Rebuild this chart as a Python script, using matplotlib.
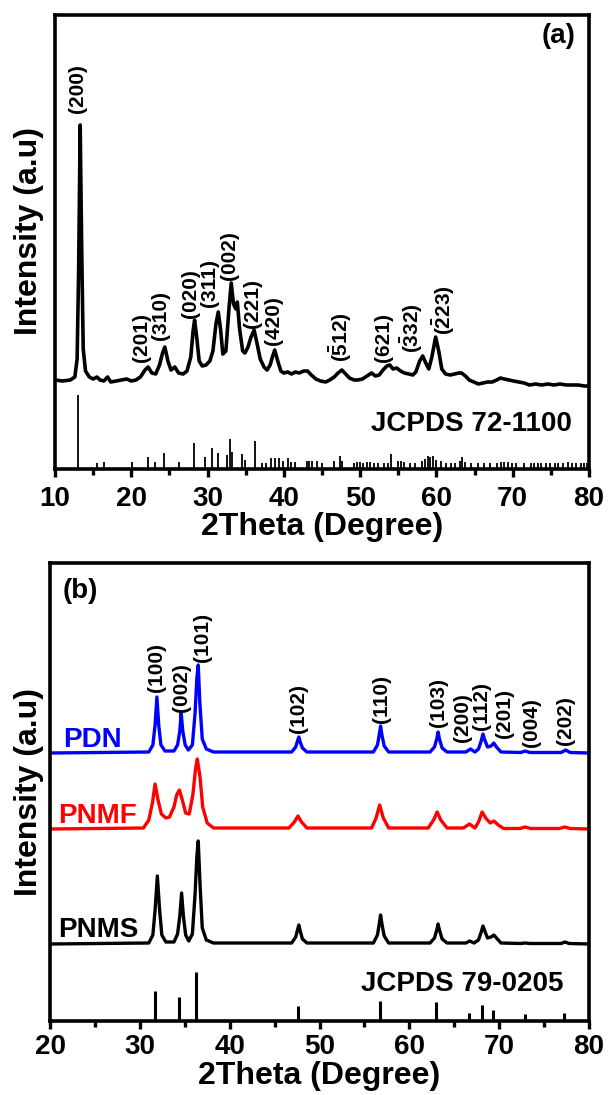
import matplotlib
matplotlib.use('Agg')
import matplotlib.pyplot as plt

plt.rcParams['font.family'] = ['Liberation Sans', 'DejaVu Sans']
plt.rcParams['mathtext.fontset'] = 'custom'
plt.rcParams['mathtext.rm'] = 'Liberation Sans'
plt.rcParams['mathtext.bf'] = 'Liberation Sans:bold'

# ---- (a) measured pattern, 2theta vs intensity (a.u.) ----
xrd_a_2theta = [10.0, 11.0, 12.0, 12.6, 12.9, 13.1, 13.3, 13.5, 13.7, 14.0, 14.5, 15.0, 15.5,
                15.9, 16.4, 16.9, 17.3, 18.0, 18.7, 19.4, 20.0, 20.6, 21.2, 21.8, 22.2, 22.7,
                23.2, 23.7, 24.1, 24.4, 24.8, 25.2, 25.7, 26.2, 26.8, 27.3, 27.8, 28.1, 28.3,
                28.6, 28.9, 29.3, 29.8, 30.3, 30.7, 31.1, 31.4, 31.7, 32.0, 32.4, 32.8, 33.1,
                33.4, 33.7, 33.9, 34.2, 34.6, 34.9, 35.3, 35.7, 36.1, 36.5, 36.9, 37.4, 37.8,
                38.2, 38.5, 38.8, 39.2, 39.6, 40.0, 40.5, 41.0, 41.5, 42.0, 42.6, 43.1, 43.6,
                44.2, 44.8, 45.5, 46.0, 46.6, 47.1, 47.6, 48.1, 48.6, 49.2, 49.7, 50.3, 50.9,
                51.5, 52.0, 52.5, 53.0, 53.5, 53.9, 54.3, 54.8, 55.3, 55.8, 56.4, 56.9, 57.3,
                57.8, 58.2, 58.6, 59.0, 59.4, 59.9, 60.3, 60.7, 61.2, 61.8, 62.4, 62.9, 63.3,
                63.8, 64.3, 64.9, 65.5, 66.1, 66.7, 67.3, 67.9, 68.4, 68.9, 69.5, 70.1, 70.8,
                71.5, 72.2, 73.0, 73.8, 74.6, 75.4, 76.2, 77.0, 77.8, 78.6, 79.4, 80.0]
xrd_a_int = [89, 88, 89, 92, 110, 200, 344, 220, 120, 98, 92, 90, 92,
             89, 88, 92, 87, 88, 89, 90, 88, 89, 92, 99, 102, 96,
             95, 104, 116, 122, 108, 99, 102, 96, 95, 98, 112, 138, 149,
             130, 108, 103, 104, 108, 118, 145, 157, 140, 115, 118, 160, 186,
             165, 160, 167, 140, 118, 116, 122, 132, 139, 125, 110, 102, 99,
             104, 112, 119, 108, 98, 96, 97, 95, 97, 96, 98, 98, 94,
             90, 88, 87, 89, 92, 96, 99, 95, 91, 89, 89, 90, 93,
             96, 93, 94, 99, 103, 104, 100, 101, 98, 96, 95, 94, 97,
             108, 113, 106, 100, 112, 132, 118, 100, 95, 94, 95, 96, 96,
             93, 89, 87, 85, 86, 87, 87, 89, 91, 90, 89, 88, 87,
             86, 84, 85, 84, 85, 84, 85, 84, 84, 84, 83, 83]

# JCPDS 72-1100 reference lines
ref_a_2theta = [13.0, 15.5, 16.4, 20.1, 22.2, 23.1, 24.3, 26.3, 28.2, 29.7, 30.6, 31.4, 32.6,
                32.9, 33.2, 34.5, 34.9, 36.2, 37.1, 37.6, 38.3, 38.8, 39.3, 39.9, 40.5, 41.0,
                41.4, 43.0, 43.3, 43.7, 44.4, 45.0, 46.6, 47.3, 47.6, 49.2, 49.6, 50.0, 50.4,
                50.9, 51.3, 51.8, 52.3, 53.1, 53.6, 54.1, 54.9, 55.3, 55.8, 56.5, 57.2, 58.1,
                58.5, 58.9, 59.2, 59.5, 60.0, 60.6, 61.3, 61.9, 62.4, 63.1, 63.3, 63.8, 64.5,
                65.4, 66.3, 67.0, 68.0, 68.5, 68.9, 69.4, 69.9, 70.4, 71.5, 72.4, 72.8, 73.3,
                73.7, 74.3, 74.9, 75.5, 76.0, 76.6, 77.2, 77.8, 78.3, 78.9, 79.4, 79.8]
ref_a_int = [74, 6, 7, 7, 12, 7, 16, 7, 26, 12, 21, 16, 14,
             30, 17, 15, 9, 28, 6, 6, 11, 11, 11, 8, 11, 7,
             7, 8, 8, 8, 8, 6, 8, 13, 8, 6, 7, 7, 6,
             7, 7, 6, 6, 6, 6, 15, 8, 8, 7, 6, 6, 8,
             10, 13, 12, 13, 9, 8, 6, 6, 6, 8, 12, 7, 6,
             6, 6, 6, 6, 7, 7, 7, 6, 6, 6, 6, 6, 6,
             6, 6, 6, 6, 6, 6, 7, 6, 6, 6, 6, 6]

hkl_a = ['(200)', '(201)', '(310)', '(020)', '(311)', '(002)', '(221)', '(420)',
         r'$\mathbf{(\bar{5}12)}$', '(621)', r'$\mathbf{(\bar{3}32)}$', r'$\mathbf{(\bar{2}23)}$']
hkl_a_x = [13.0, 21.4, 23.8, 27.7, 30.3, 32.9, 35.9, 38.6, 47.4, 53.0, 56.8, 61.0]
hkl_a_y = [356, 107, 129, 151, 162, 189, 141, 124, 107, 107, 116, 134]

# ---- (b) measured patterns (baseline removed) ----
pdn_2theta = [20.0, 31.0, 31.45, 31.7, 31.9, 32.1, 32.35, 32.8, 33.8, 34.2, 34.45, 34.6, 34.78,
              35.05, 35.4, 35.85, 36.15, 36.35, 36.5, 36.68, 36.95, 37.4, 38.2, 46.9, 47.35,
              47.55, 47.7, 47.85, 48.1, 48.6, 56.0, 56.45, 56.65, 56.8, 56.95, 57.2, 57.7,
              62.3, 62.8, 63.05, 63.2, 63.35, 63.65, 64.2, 66.3, 66.8, 67.3, 67.7, 68.0, 68.2,
              68.4, 68.7, 69.1, 69.4, 69.7, 70.2, 72.4, 72.9, 73.4, 76.9, 77.4, 77.9, 80.0]
pdn_int = [0, 1, 8, 28, 56, 28, 8, 2, 2, 8, 22, 40, 22,
           8, 3, 8, 40, 75, 88, 50, 14, 4, 1, 1, 6,
           12, 16, 11, 5, 1, 1, 8, 18, 27, 18, 7, 1,
           1, 6, 14, 21, 14, 5, 1, 1, 4, 1, 4, 12, 19,
           13, 6, 7, 10, 6, 1, 0.5, 2, 0.5, 0.5, 3, 0.5, 0]

pnmf_2theta = [20.0, 30.4, 31.0, 31.4, 31.7, 32.0, 32.4, 32.9, 33.3, 33.8, 34.1, 34.4, 34.7,
               35.1, 35.5, 35.9, 36.2, 36.4, 36.7, 37.0, 37.5, 38.2, 46.6, 47.2, 47.6, 48.0,
               48.6, 55.8, 56.3, 56.7, 57.1, 57.7, 62.1, 62.7, 63.1, 63.5, 64.2, 66.0, 66.7,
               67.3, 67.7, 68.1, 68.5, 69.0, 69.4, 69.9, 70.5, 72.3, 72.9, 73.5, 76.7, 77.3,
               77.9, 80.0]
pnmf_int = [0, 1, 9, 26, 45, 30, 15, 11, 12, 22, 34, 39, 30,
            16, 15, 34, 60, 70, 52, 22, 6, 1, 1, 7, 13, 7,
            1, 1, 11, 24, 11, 1, 1, 9, 17, 9, 1, 1, 5,
            1, 7, 17, 11, 6, 8, 4, 0.5, 0.5, 2, 0.5, 0.5, 2,
            0.5, 0]

pnms_2theta = [20.0, 31.0, 31.45, 31.7, 31.95, 32.2, 32.45, 32.9, 33.8, 34.2, 34.45, 34.65,
               34.85, 35.1, 35.45, 35.85, 36.15, 36.35, 36.5, 36.7, 36.95, 37.4, 38.2, 46.9,
               47.35, 47.55, 47.7, 47.85, 48.1, 48.6, 56.0, 56.45, 56.65, 56.8, 56.95, 57.2,
               57.7, 62.3, 62.8, 63.05, 63.2, 63.35, 63.65, 64.2, 66.3, 66.7, 67.2, 67.7, 68.0,
               68.2, 68.4, 68.7, 69.1, 69.4, 69.7, 70.2, 72.4, 72.9, 73.4, 76.9, 77.3, 77.8,
               80.0]
pnms_int = [0, 1, 9, 34, 68, 34, 9, 2, 2, 10, 28, 51, 28,
            9, 3, 10, 50, 88, 103, 60, 16, 4, 1, 1,
            7, 14, 19, 13, 5, 1, 1, 9, 20, 29, 20, 8,
            1, 1, 6, 14, 20, 14, 5, 1, 1, 3, 1, 4, 12,
            18, 13, 6, 7, 9, 6, 1, 0.5, 1, 0.5, 0.5, 2, 0.5,
            0]

# stacking offsets for the three samples
pdn_offset = 268
pnmf_offset = 192
pnms_offset = 77

# JCPDS 79-0205 reference lines
ref_b_2theta = [31.7, 34.4, 36.2, 47.6, 56.7, 63.0, 66.6, 68.1, 69.3, 72.9, 77.2]
ref_b_int = [30, 24, 49, 15, 20, 19, 8, 16, 11, 7, 8]

hkl_b = ['(100)', '(002)', '(101)', '(102)', '(110)', '(103)', '(200)', '(112)', '(201)',
         '(004)', '(202)']
hkl_b_x = [31.9, 34.6, 37.0, 47.7, 56.9, 63.2, 65.9, 68.0, 70.6, 73.6, 77.4]
hkl_b_y = [329, 309, 359, 288, 298, 294, 279, 291, 283, 274, 276]

W, H = 609, 1095
fig = plt.figure(figsize=(W / 100, H / 100), dpi=100)
ax1 = fig.add_axes([55 / W, 1 - 469 / H, 534 / W, 454 / H])
ax2 = fig.add_axes([50 / W, 1 - 1021 / H, 539 / W, 458 / H])

tick_fs = 20
label_fs = 23
hkl_fs = 15


def style_axis(ax, xmin, xmax, pad):
    for s in ax.spines.values():
        s.set_linewidth(2.6)
    ax.set_xlim(xmin, xmax)
    ax.set_xticks(range(xmin, xmax + 1, 10))
    ax.set_xticks(range(xmin + 5, xmax, 10), minor=True)
    ax.set_yticks([])
    ax.tick_params(axis='x', which='major', direction='out', length=6, width=2.4,
                   labelsize=tick_fs, pad=pad)
    ax.tick_params(axis='x', which='minor', direction='out', length=4, width=2.4)
    for lab in ax.get_xticklabels():
        lab.set_fontweight('bold')


# panel (a)
ax1.plot(xrd_a_2theta, xrd_a_int, color='black', lw=2.6, solid_joinstyle='round')
ax1.vlines(ref_a_2theta, 0, ref_a_int, color='black', lw=1.3)
ax1.set_ylim(0, 454)
style_axis(ax1, 10, 80, 6)
ax1.set_xlabel('2Theta (Degree)', fontsize=label_fs, fontweight='bold', labelpad=0)
for t, x, y in zip(hkl_a, hkl_a_x, hkl_a_y):
    ax1.text(x, y, t, rotation=90, ha='center', va='bottom', fontsize=hkl_fs,
             fontweight='bold')
ax1.text(0.974, 0.954, '(a)', transform=ax1.transAxes, ha='right', va='center',
         fontsize=20, fontweight='bold')
ax1.text(0.968, 0.0837, 'JCPDS 72-1100', transform=ax1.transAxes, ha='right',
         va='baseline', fontsize=tick_fs, fontweight='bold')

# panel (b)
ax2.plot(pdn_2theta, [v + pdn_offset for v in pdn_int], color='#0000ff', lw=2.4)
ax2.plot(pnmf_2theta, [v + pnmf_offset for v in pnmf_int], color='#ff0000', lw=2.4)
ax2.plot(pnms_2theta, [v + pnms_offset for v in pnms_int], color='black', lw=2.4)
ax2.vlines(ref_b_2theta, 0, ref_b_int, color='black', lw=2.2)
ax2.set_ylim(0, 458)
style_axis(ax2, 20, 80, 3)
ax2.set_xlabel('2Theta (Degree)', fontsize=label_fs, fontweight='bold', labelpad=1)
for t, x, y in zip(hkl_b, hkl_b_x, hkl_b_y):
    ax2.text(x, y, t, rotation=90, ha='center', va='bottom', fontsize=hkl_fs,
             fontweight='bold')
ax2.text(0.024, 0.939, '(b)', transform=ax2.transAxes, ha='left', va='center',
         fontsize=20, fontweight='bold')
ax2.text(0.024, 0.598, 'PDN', transform=ax2.transAxes, ha='left', va='baseline',
         fontsize=tick_fs, fontweight='bold', color='#0000ff')
ax2.text(0.016, 0.432, 'PNMF', transform=ax2.transAxes, ha='left', va='baseline',
         fontsize=tick_fs, fontweight='bold', color='#ff0000')
ax2.text(0.016, 0.183, 'PNMS', transform=ax2.transAxes, ha='left', va='baseline',
         fontsize=tick_fs, fontweight='bold', color='black')
ax2.text(0.952, 0.0655, 'JCPDS 79-0205', transform=ax2.transAxes, ha='right',
         va='baseline', fontsize=tick_fs, fontweight='bold')

fig.text(29 / W, 1 - 231 / H, 'Intensity (a.u)', rotation=90, ha='center', va='center',
         fontsize=label_fs, fontweight='bold')
fig.text(29 / W, 1 - 792 / H, 'Intensity (a.u)', rotation=90, ha='center', va='center',
         fontsize=label_fs, fontweight='bold')

fig.savefig('out.png', dpi=100)
